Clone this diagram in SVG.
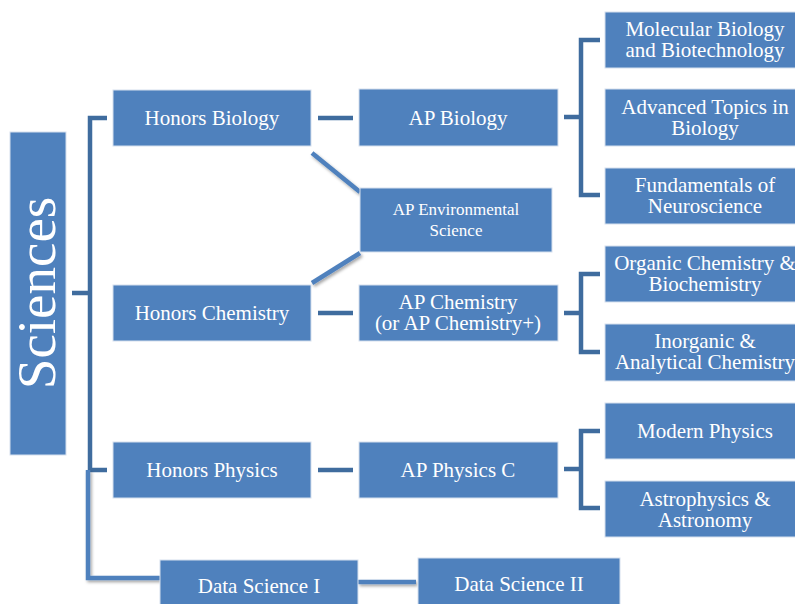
<svg xmlns="http://www.w3.org/2000/svg" width="795" height="604" viewBox="0 0 795 604">
<defs>
<style>
.box{fill:#4F81BD;stroke:#D6E0EE;stroke-width:1}
.t{font-family:"Liberation Serif","Times New Roman",serif;fill:#FFFFFF;text-anchor:middle;font-size:21px}
.s{font-size:17px}
.br{fill:none;stroke:#3F6C9E;stroke-width:4.5;stroke-linejoin:miter}
.ln{fill:none;stroke:#4F81BD;stroke-width:4.5;filter:url(#sh)}
</style>
<filter id="sh" filterUnits="userSpaceOnUse" x="0" y="0" width="795" height="604">
<feDropShadow dx="1.5" dy="2" stdDeviation="1.5" flood-color="#000" flood-opacity="0.35"/>
</filter>
</defs>
<rect width="795" height="604" fill="#FFFFFF"/>
<g id="connectors">
<path class="br" d="M72,293 H90 M107,118 H90 V470 H107"/>
<path class="br" d="M318,118 H353 M318,313 H353 M318,470 H353"/>
<path class="br" d="M564,117 H581 M600,40 H581 V195 H600"/>
<path class="br" d="M564,313 H581 M600,274 H581 V352 H600"/>
<path class="br" d="M564,469 H581 M600,431 H581 V508 H600"/>
<path class="ln" d="M312,153 L360,192"/>
<path class="ln" d="M312,283 L360,253"/>
<path class="ln" d="M88,470 V578 H160"/>
<path class="ln" d="M358,582 H416"/>
</g>
<g id="sciences"><rect class="box" x="10" y="132" width="56" height="323"/>
<text class="t" style="font-size:55px" transform="translate(55,293) rotate(-90)">Sciences</text></g>
<g id="honors-biology"><rect class="box" x="113" y="90" width="198" height="56"/><text class="t" x="212" y="125">Honors Biology</text></g>
<g id="honors-chemistry"><rect class="box" x="113" y="285" width="198" height="56"/><text class="t" x="212" y="320">Honors Chemistry</text></g>
<g id="honors-physics"><rect class="box" x="113" y="442" width="198" height="56"/><text class="t" x="212" y="477">Honors Physics</text></g>
<g id="ap-biology"><rect class="box" x="359" y="89" width="199" height="57"/><text class="t" x="458" y="125">AP Biology</text></g>
<g id="ap-env"><rect class="box" x="360" y="188" width="192" height="64"/><text class="t s" x="456" y="215">AP Environmental</text><text class="t s" x="456" y="236">Science</text></g>
<g id="ap-chemistry"><rect class="box" x="359" y="285" width="199" height="56"/><text class="t" x="458" y="309">AP Chemistry</text><text class="t" x="458" y="330">(or AP Chemistry+)</text></g>
<g id="ap-physics"><rect class="box" x="359" y="442" width="199" height="56"/><text class="t" x="458" y="477">AP Physics C</text></g>
<g id="molecular"><rect class="box" x="605" y="12" width="200" height="56"/><text class="t" x="705" y="36">Molecular Biology</text><text class="t" x="705" y="57">and Biotechnology</text></g>
<g id="advanced"><rect class="box" x="605" y="89" width="200" height="57"/><text class="t" x="705" y="114">Advanced Topics in</text><text class="t" x="705" y="135">Biology</text></g>
<g id="neuro"><rect class="box" x="605" y="168" width="200" height="56"/><text class="t" x="705" y="192">Fundamentals of</text><text class="t" x="705" y="213">Neuroscience</text></g>
<g id="organic"><rect class="box" x="605" y="246" width="200" height="56"/><text class="t" x="705" y="270">Organic Chemistry &amp;</text><text class="t" x="705" y="291">Biochemistry</text></g>
<g id="inorganic"><rect class="box" x="605" y="324" width="200" height="57"/><text class="t" x="705" y="348">Inorganic &amp;</text><text class="t" x="705" y="369">Analytical Chemistry</text></g>
<g id="modern"><rect class="box" x="605" y="403" width="200" height="56"/><text class="t" x="705" y="438">Modern Physics</text></g>
<g id="astro"><rect class="box" x="605" y="481" width="200" height="56"/><text class="t" x="705" y="506">Astrophysics &amp;</text><text class="t" x="705" y="527">Astronomy</text></g>
<g id="data-science-1"><rect class="box" x="160" y="560" width="198" height="50"/><text class="t" x="259" y="593">Data Science I</text></g>
<g id="data-science-2"><rect class="box" x="418" y="558" width="202" height="52"/><text class="t" x="519" y="591">Data Science II</text></g>
</svg>
